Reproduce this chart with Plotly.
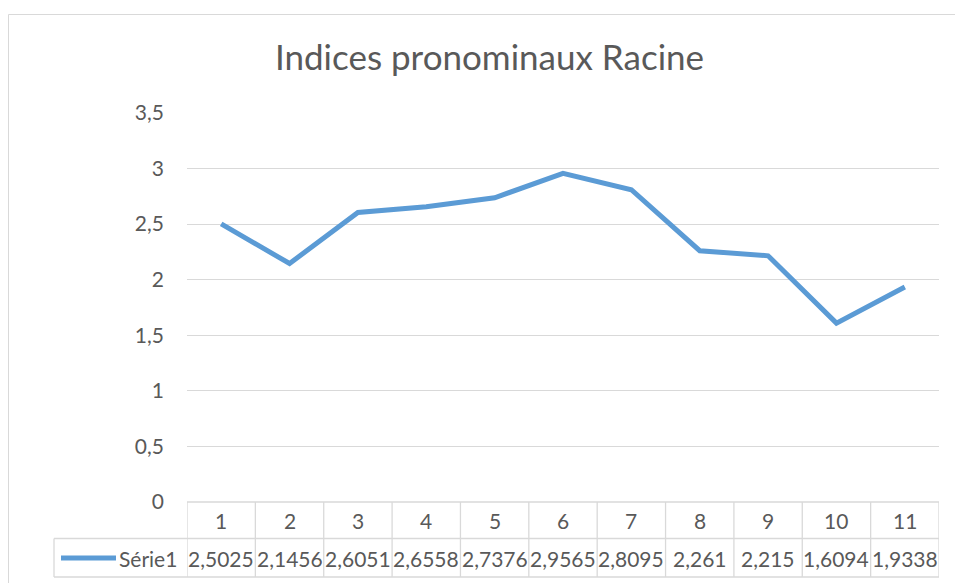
import plotly.graph_objects as go

# ---- data ----
categories = [1, 2, 3, 4, 5, 6, 7, 8, 9, 10, 11]
values = [2.5025, 2.1456, 2.6051, 2.6558, 2.7376, 2.9565, 2.8095, 2.261, 2.215, 1.6094, 1.9338]
value_labels = ["2,5025", "2,1456", "2,6051", "2,6558", "2,7376", "2,9565",
                "2,8095", "2,261", "2,215", "1,6094", "1,9338"]
series_name = "Série1"
title = "Indices pronominaux Racine"

# ---- layout constants ----
W, H = 955, 583
L, R, T, B = 187, 16, 113, 81
PW, PH = W - L - R, H - T - B
LINE = "#5B9BD5"
GRID = "#D9D9D9"
TXT = "#595959"
FONT = "Lato"


def px_x(px):
    return (px - L) / PW


def px_y(py):
    return (H - B - py) / PH


fig = go.Figure()
fig.add_trace(go.Scatter(
    x=categories, y=values, mode="lines", name=series_name,
    line=dict(color=LINE, width=5), showlegend=False, hoverinfo="skip",
))

shapes = []
# outer chart frame
shapes.append(dict(type="rect", xref="paper", yref="paper",
                   x0=px_x(8.5), x1=px_x(975), y0=px_y(600), y1=px_y(14.5),
                   line=dict(color=GRID, width=1), layer="below"))
# data table
row_sep = px_y(538.5)
tbl_bot = px_y(577)
n = len(categories)
shapes.append(dict(type="line", xref="x", yref="paper", x0=0.5, x1=n + 0.5,
                   y0=0, y1=0, line=dict(color=GRID, width=1.3)))
shapes.append(dict(type="line", xref="paper", yref="paper", x0=px_x(54), x1=1,
                   y0=row_sep, y1=row_sep, line=dict(color=GRID, width=1.3)))
shapes.append(dict(type="line", xref="paper", yref="paper", x0=px_x(54), x1=1,
                   y0=tbl_bot, y1=tbl_bot, line=dict(color=GRID, width=1.3)))
shapes.append(dict(type="line", xref="paper", yref="paper", x0=px_x(54), x1=px_x(54),
                   y0=row_sep, y1=tbl_bot, line=dict(color=GRID, width=1.3)))
for k in range(n + 1):
    shapes.append(dict(type="line", xref="x", yref="paper", x0=k + 0.5, x1=k + 0.5,
                       y0=0, y1=tbl_bot, line=dict(color=GRID, width=1.3)))
# legend key in table
leg_y = px_y(558)
shapes.append(dict(type="line", xref="paper", yref="paper", x0=px_x(61), x1=px_x(116),
                   y0=leg_y, y1=leg_y, line=dict(color=LINE, width=5)))

annotations = []
cat_y = px_y(520)
for c in categories:
    annotations.append(dict(x=c, y=cat_y, xref="x", yref="paper", text=str(c),
                            showarrow=False, font=dict(family=FONT, size=21, color=TXT),
                            xanchor="center", yanchor="middle"))
for c, lab in zip(categories, value_labels):
    annotations.append(dict(x=c, y=leg_y, xref="x", yref="paper", text=lab,
                            showarrow=False, font=dict(family=FONT, size=21, color=TXT),
                            xanchor="center", yanchor="middle"))
annotations.append(dict(x=px_x(117), y=leg_y, xref="paper", yref="paper", text=series_name,
                        showarrow=False, font=dict(family=FONT, size=21, color=TXT),
                        xanchor="left", yanchor="middle"))

fig.update_layout(
    width=W, height=H,
    margin=dict(l=L, r=R, t=T, b=B),
    paper_bgcolor="white", plot_bgcolor="white",
    separators=", ",
    hovermode=False,
    title=dict(text=title, x=px_x(489.5), xref="paper", y=1 - 58 / H, yref="container",
               xanchor="center", yanchor="middle",
               font=dict(family=FONT, size=35, color=TXT)),
    xaxis=dict(range=[0.5, n + 0.5], showgrid=False, showticklabels=False,
               zeroline=False, showline=False, ticks=""),
    yaxis=dict(range=[0, 3.5], dtick=0.5, tick0=0, showgrid=True, gridcolor=GRID,
               gridwidth=1.3, zeroline=False, showline=False, ticks="",
               ticklabelstandoff=22,
               tickfont=dict(family=FONT, size=21, color=TXT)),
    shapes=shapes, annotations=annotations,
)

fig.write_html("out.html", config={"displayModeBar": False},
               post_script="document.body.style.margin='0';document.body.style.overflow='hidden';")
